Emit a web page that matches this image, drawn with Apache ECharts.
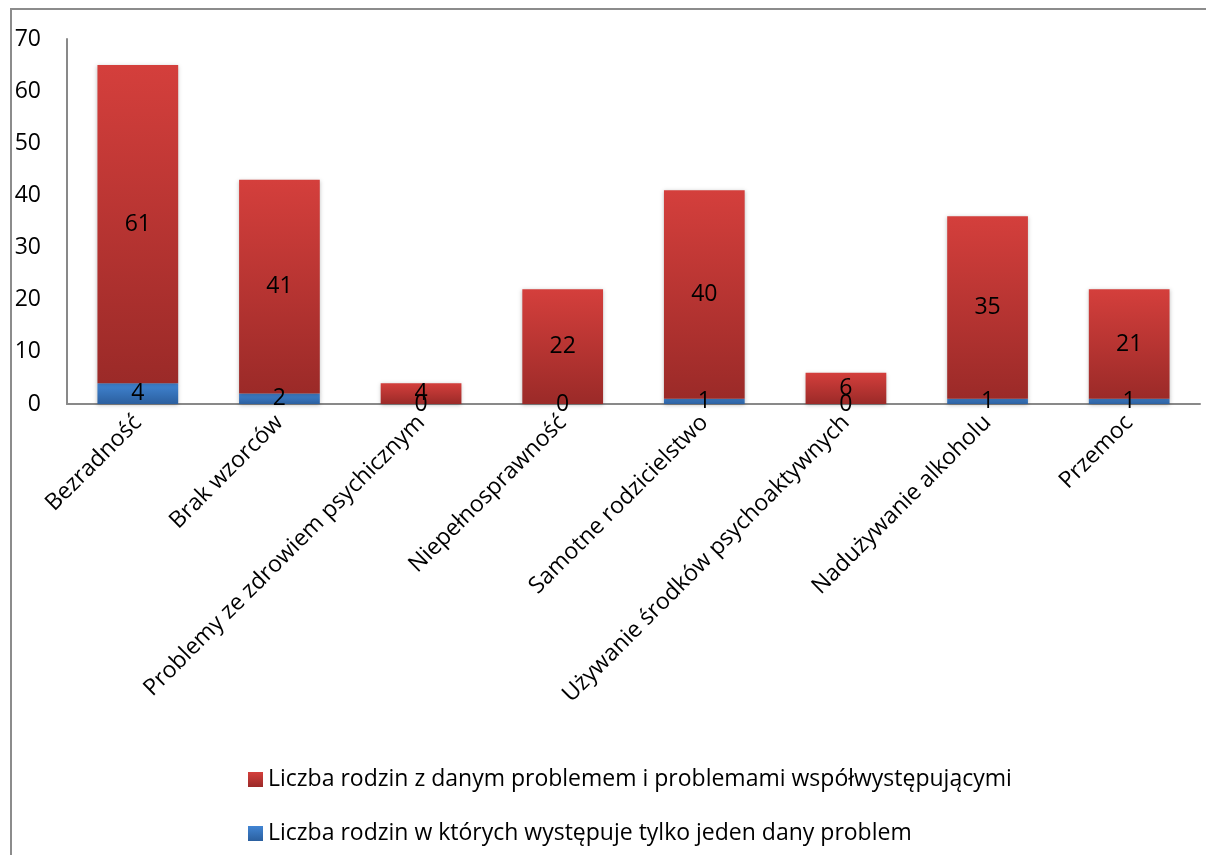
<!DOCTYPE html>
<html><head><meta charset="utf-8">
<script src="https://cdn.jsdelivr.net/npm/echarts@6/dist/echarts.min.js"></script>
<style>html,body{margin:0;padding:0;background:#fff}#c{width:1206px;height:855px}</style>
</head><body><div id="c"></div>
<script>
const categories = ["Bezradność","Brak wzorców","Problemy ze zdrowiem psychicznym","Niepełnosprawność","Samotne rodzicielstwo","Używanie środków psychoaktywnych","Nadużywanie alkoholu","Przemoc"];
const onlyOne = [4,2,0,0,1,0,1,1];
const withCo = [61,41,4,22,40,6,35,21];
const seriesNames = ["Liczba rodzin w których występuje tylko jeden dany problem","Liczba rodzin z danym problemem i problemami współwystępującymi"];
const yTicks = {min:0,max:70,interval:10};

const FONT = "Open Sans";
const FS = 23;
const chart = echarts.init(document.getElementById('c'));
const grad = (a,b)=>new echarts.graphic.LinearGradient(0,0,0,1,[{offset:0,color:a},{offset:1,color:b}]);
const lbl = {show:true,position:'inside',color:'#000',fontSize:FS,fontFamily:FONT};
chart.setOption({
  animation:false,
  textStyle:{fontFamily:FONT},
  graphic:[{type:'rect',shape:{x:11,y:9,width:1220,height:880},style:{fill:'none',stroke:'#8c8c8c',lineWidth:2},z:-1}],
  grid:{left:67,top:39,right:6,bottom:451,containLabel:false},
  legend:{
    orient:'vertical',left:243,top:763,itemGap:31,itemWidth:15,itemHeight:15,icon:'rect',
    data:[seriesNames[1],seriesNames[0]],
    textStyle:{fontSize:FS,color:'#000',fontFamily:FONT}
  },
  xAxis:{type:'category',data:categories,
    axisLine:{lineStyle:{color:'#898989',width:2}},axisTick:{show:false},
    axisLabel:{interval:0,rotate:45,fontSize:FS,color:'#000',margin:15,fontFamily:FONT}},
  yAxis:{type:'value',min:yTicks.min,max:yTicks.max,interval:yTicks.interval,
    splitLine:{show:false},axisLine:{show:true,lineStyle:{color:'#898989',width:2}},axisTick:{show:false},
    axisLabel:{fontSize:FS,color:'#000',margin:26,fontFamily:FONT}},
  series:[
    {name:seriesNames[0],type:'bar',stack:'a',data:onlyOne,barWidth:'57%',
      itemStyle:{color:grad('#4185d3','#2b5f9f'),shadowBlur:4,shadowColor:'rgba(0,0,0,0.25)',shadowOffsetY:1},label:lbl},
    {name:seriesNames[1],type:'bar',stack:'a',data:withCo,barWidth:'57%',
      itemStyle:{color:grad('#d43f3c','#9b2a28'),shadowBlur:4,shadowColor:'rgba(0,0,0,0.25)',shadowOffsetY:1},label:lbl}
  ]
});
</script></body></html>
